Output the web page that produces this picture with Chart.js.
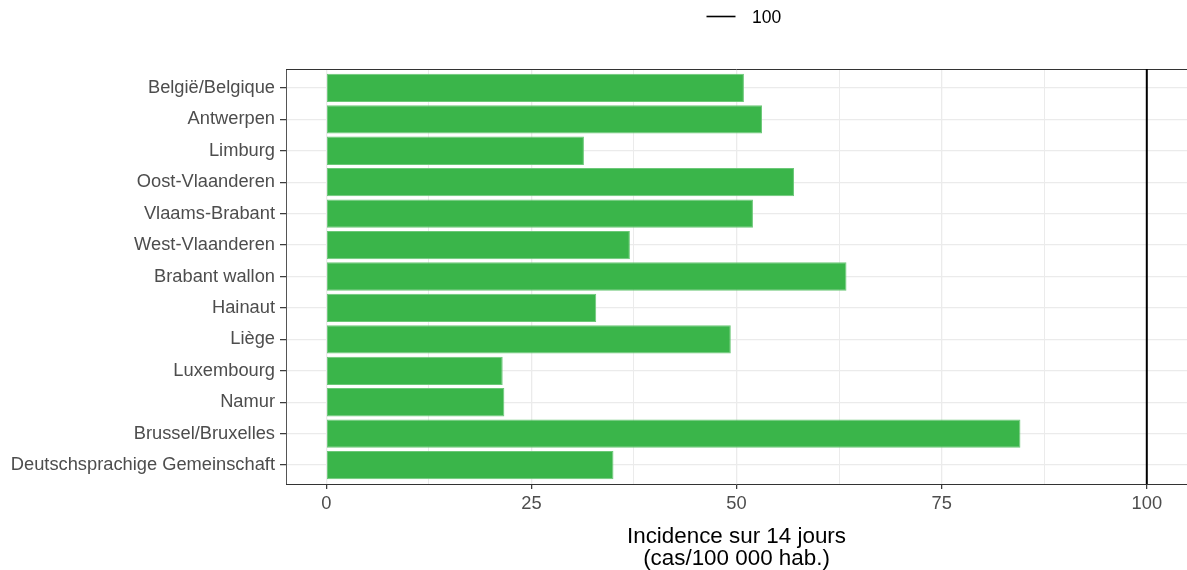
<!DOCTYPE html>
<html>
<head>
<meta charset="utf-8">
<script src="https://cdn.jsdelivr.net/npm/chart.js@4/dist/chart.umd.min.js"></script>
<style>
html,body{margin:0;padding:0;background:#fff;overflow:hidden;}
#wrap{width:1187px;height:570px;}
</style>
</head>
<body>
<div id="wrap"><canvas id="c" width="1187" height="570"></canvas></div>
<script>
const categories = ["België/Belgique","Antwerpen","Limburg","Oost-Vlaanderen","Vlaams-Brabant","West-Vlaanderen","Brabant wallon","Hainaut","Liège","Luxembourg","Namur","Brussel/Bruxelles","Deutschsprachige Gemeinschaft"];
const incidence = [50.9, 53.1, 31.4, 57.0, 52.0, 37.0, 63.4, 32.9, 49.3, 21.5, 21.7, 84.6, 35.0];
const majorTicks = [0, 25, 50, 75, 100];
const minorTicks = [12.5, 37.5, 62.5, 87.5];
const referenceLine = 100;
const referenceLabel = "100";
const axisTitle = ["Incidence sur 14 jours", "(cas/100 000 hab.)"];

const FONT = '"Liberation Sans", Arial, Helvetica, sans-serif';

const extrasPlugin = {
  id: 'extras',
  afterDatasetsDraw(chart) {
    const {ctx, chartArea, scales} = chart;
    ctx.save();
    ctx.strokeStyle = '#333333';
    ctx.lineWidth = 1;
    ctx.beginPath();
    ctx.moveTo(chartArea.left, chartArea.top + 0.5);
    ctx.lineTo(chartArea.right, chartArea.top + 0.5);
    ctx.stroke();
    const x = scales.x.getPixelForValue(referenceLine);
    ctx.strokeStyle = '#000000';
    ctx.lineWidth = 2;
    ctx.beginPath();
    ctx.moveTo(x, chartArea.top);
    ctx.lineTo(x, chartArea.bottom);
    ctx.stroke();
    ctx.restore();
  },
  afterDraw(chart) {
    const {ctx} = chart;
    ctx.save();
    ctx.strokeStyle = '#000000';
    ctx.lineWidth = 1.6;
    ctx.beginPath();
    ctx.moveTo(706.5, 16.5);
    ctx.lineTo(735.5, 16.5);
    ctx.stroke();
    ctx.fillStyle = '#000000';
    ctx.font = '17.5px ' + FONT;
    ctx.textBaseline = 'middle';
    ctx.textAlign = 'left';
    ctx.fillText(referenceLabel, 752, 18);
    ctx.restore();
  }
};

const allTicks = majorTicks.concat(minorTicks).sort((a,b)=>a-b);
const barData = categories.map((c, i) => ({ y: i, x: incidence[i] }));

new Chart(document.getElementById('c'), {
  type: 'bar',
  data: {
    labels: categories,
    datasets: [{
      data: barData,
      backgroundColor: '#3AB54A',
      borderColor: '#6CC878',
      borderWidth: 1,
      borderSkipped: false,
      barPercentage: 0.9,
      categoryPercentage: 1.0
    }]
  },
  options: {
    indexAxis: 'y',
    responsive: false,
    animation: false,
    devicePixelRatio: 1,
    layout: { padding: { top: 69, left: 0, right: 0, bottom: 0 } },
    plugins: { legend: { display: false }, tooltip: { enabled: false } },
    scales: {
      y: {
        type: 'linear',
        reverse: true,
        offset: false,
        min: -0.6,
        max: categories.length - 1 + 0.6,
        afterFit: s => { s.width = 286; },
        afterBuildTicks: s => { s.ticks = categories.map((c, i) => ({ value: i })); },
        grid: { offset: false, color: '#EBEBEB', lineWidth: 1.3, tickColor: '#333333', tickLength: 6, tickWidth: 1.2 },
        border: { color: '#555555', width: 1 },
        ticks: {
          font: { family: FONT, size: 18.3 }, color: '#4D4D4D', padding: 5, autoSkip: false,
          callback: v => categories[v]
        }
      },
      x: {
        type: 'linear',
        offset: false,
        min: -4.91,
        max: 104.9,
        afterFit: s => { s.height = 86; },
        afterBuildTicks: s => { s.ticks = allTicks.map(v => ({ value: v })); },
        grid: {
          offset: false,
          color: '#EBEBEB',
          lineWidth: c => (c.tick && majorTicks.includes(c.tick.value)) ? 1.3 : 1,
          tickColor: c => (c.tick && majorTicks.includes(c.tick.value)) ? '#333333' : 'rgba(0,0,0,0)',
          tickLength: 5,
          tickWidth: 1.2
        },
        border: { color: '#333333', width: 1 },
        ticks: {
          autoSkip: false, maxRotation: 0, minRotation: 0,
          font: { family: FONT, size: 18.3 }, color: '#4D4D4D', padding: 4,
          callback: v => majorTicks.includes(v) ? String(v) : ''
        },
        title: {
          display: true, text: axisTitle, color: '#000000',
          font: { family: FONT, size: 22.4, lineHeight: 1.0 },
          padding: { top: 0, bottom: 0 }
        }
      }
    }
  },
  plugins: [extrasPlugin]
});
</script>
</body>
</html>
